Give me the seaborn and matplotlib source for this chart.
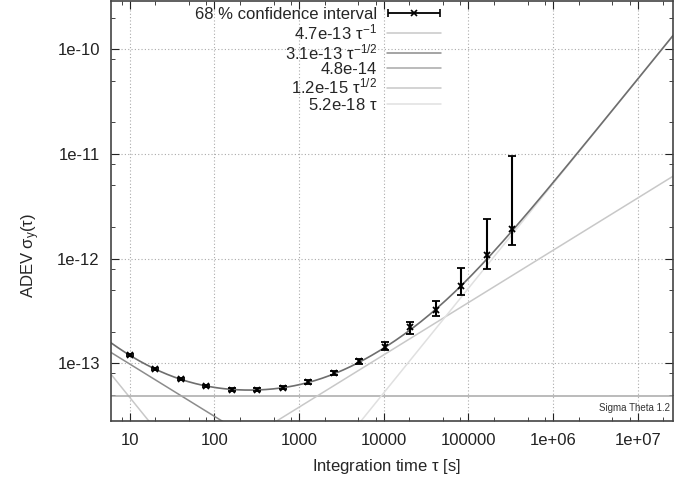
import numpy as np
import pandas as pd
import matplotlib
matplotlib.use('Agg')
import matplotlib.pyplot as plt
import matplotlib.ticker as mticker
from matplotlib.legend_handler import HandlerErrorbar
from matplotlib.container import ErrorbarContainer
import seaborn as sns

# measured ADEV points
tau = [10, 20, 40, 80, 160, 320, 640, 1280, 2560, 5120,
       10240, 20480, 40960, 81920, 163840, 327680]
adev = [1.19e-13, 8.8e-14, 7.0e-14, 6.0e-14, 5.57e-14, 5.57e-14, 5.82e-14, 6.6e-14,
        8.0e-14, 1.04e-13, 1.42e-13, 2.2e-13, 3.2e-13, 5.5e-13, 1.07e-12, 1.92e-12]
ci_low = [1.17e-13, 8.65e-14, 6.85e-14, 5.85e-14, 5.42e-14, 5.4e-14, 5.62e-14, 6.35e-14,
          7.65e-14, 0.98e-13, 1.33e-13, 1.9e-13, 2.8e-13, 4.5e-13, 7.9e-13, 1.34e-12]
ci_high = [1.22e-13, 9.0e-14, 7.2e-14, 6.2e-14, 5.75e-14, 5.8e-14, 6.1e-14, 6.9e-14,
           8.4e-14, 1.1e-13, 1.58e-13, 2.5e-13, 3.9e-13, 8.1e-13, 2.4e-12, 9.6e-12]

# noise model: coefficient and slope
coefs = [4.7e-13, 3.1e-13, 4.8e-14, 1.2e-15, 5.2e-18]
slopes = [-1, -0.5, 0, 0.5, 1]
labels = [r'4.7e-13 $\tau^{-1}$', r'3.1e-13 $\tau^{-1/2}$', '4.8e-14',
          r'1.2e-15 $\tau^{1/2}$', r'5.2e-18 $\tau$']
colors = ['#c8c8c8', '#8c8c8c', '#a8a8a8', '#c8c8c8', '#e0e0e0']

xticks = [10, 100, 1000, 10000, 100000, 1e6, 1e7]
xticklabels = ['10', '100', '1000', '10000', '100000', '1e+06', '1e+07']
yticks = [1e-13, 1e-12, 1e-11, 1e-10]
yticklabels = ['1e-13', '1e-12', '1e-11', '1e-10']

xmin, xmax = 6, 2.6e7
ymin, ymax = 2.8e-14, 2.9e-10

sns.set_style('ticks')
plt.rcParams['font.family'] = ['Liberation Sans', 'DejaVu Sans']
plt.rcParams['mathtext.fontset'] = 'custom'
plt.rcParams['mathtext.rm'] = 'Liberation Sans'
plt.rcParams['mathtext.it'] = 'Liberation Sans'

fig = plt.figure(figsize=(6.75, 4.8), dpi=100)
ax = fig.add_axes([0.1644, 0.123, 0.8326, 0.875])

t = np.logspace(np.log10(xmin), np.log10(xmax), 400)
total = np.zeros_like(t)
for c, s, lab, col in zip(coefs, slopes, labels, colors):
    y = c * t ** s
    total += y ** 2
    sns.lineplot(x=t, y=y, ax=ax, color=col, lw=1.1, label=lab)
sns.lineplot(x=t, y=np.sqrt(total), ax=ax, color='#6e6e6e', lw=1.2, label='_fit')

adev_a = np.array(adev)
yerr = [adev_a - np.array(ci_low), np.array(ci_high) - adev_a]
ax.errorbar(tau, adev, yerr=yerr, fmt='x', color='black', ms=5, mew=1.3,
            elinewidth=1.5, capsize=3, capthick=1.3, zorder=5, label='_data')
# horizontal errorbar proxy for the legend entry
proxy = ax.errorbar([np.nan], [np.nan], xerr=[[1], [1]], fmt='x', color='black',
                    ms=4, mew=1.2, elinewidth=1.3, capsize=3, capthick=1.2)

ax.set_xscale('log')
ax.set_yscale('log')
ax.set_xlim(xmin, xmax)
ax.set_ylim(ymin, ymax)

ax.set_xticks(xticks)
ax.set_xticklabels(xticklabels)
ax.set_yticks(yticks)
ax.set_yticklabels(yticklabels)
xminor = [m * 10 ** e for e in range(0, 8) for m in (2, 5, 8) if xmin < m * 10 ** e < xmax]
yminor = [m * 10 ** e for e in range(-14, -9) for m in (2, 5, 8) if ymin < m * 10 ** e < ymax]
ax.xaxis.set_minor_locator(mticker.FixedLocator(xminor))
ax.yaxis.set_minor_locator(mticker.FixedLocator(yminor))
ax.xaxis.set_minor_formatter(mticker.NullFormatter())
ax.yaxis.set_minor_formatter(mticker.NullFormatter())

ax.tick_params(which='both', direction='in', top=True, right=True, labelsize=12, colors='#222222')
ax.tick_params(which='major', length=6)
ax.tick_params(which='minor', length=3)
ax.tick_params(axis='x', which='major', pad=9)
ax.tick_params(axis='y', which='major', pad=8)
for sp in ax.spines.values():
    sp.set_color('#444444')
    sp.set_linewidth(1.2)

ax.grid(True, which='major', ls=(0, (1, 2)), color='#aaaaaa', lw=0.8)

ax.set_xlabel(r'Integration time $\tau$ [s]', fontsize=12)
ax.set_ylabel(r'ADEV $\sigma_y(\tau)$', fontsize=12)
ax.xaxis.set_label_coords(0.49, -0.085)
ax.yaxis.set_label_coords(-0.122, 0.394)

ax.text(0.995, 0.031, 'Sigma Theta 1.2', transform=ax.transAxes, ha='right',
        va='center', fontsize=7, color='#333333')

h, l = ax.get_legend_handles_labels()
handles = [proxy] + [h[l.index(x)] for x in labels]
leg = ax.legend(handles, ['68 % confidence interval'] + labels, loc='upper left',
                bbox_to_anchor=(0.135, 1.005), frameon=False, fontsize=12,
                markerfirst=False, handlelength=3.2, labelspacing=0.0,
                borderaxespad=0.1, handletextpad=0.6,
                handler_map={ErrorbarContainer: HandlerErrorbar(xerr_size=1.55)})
for txt in leg.get_texts():
    txt.set_ha('right')
leg._legend_box.align = 'right'

fig.savefig('out.png', dpi=100)
